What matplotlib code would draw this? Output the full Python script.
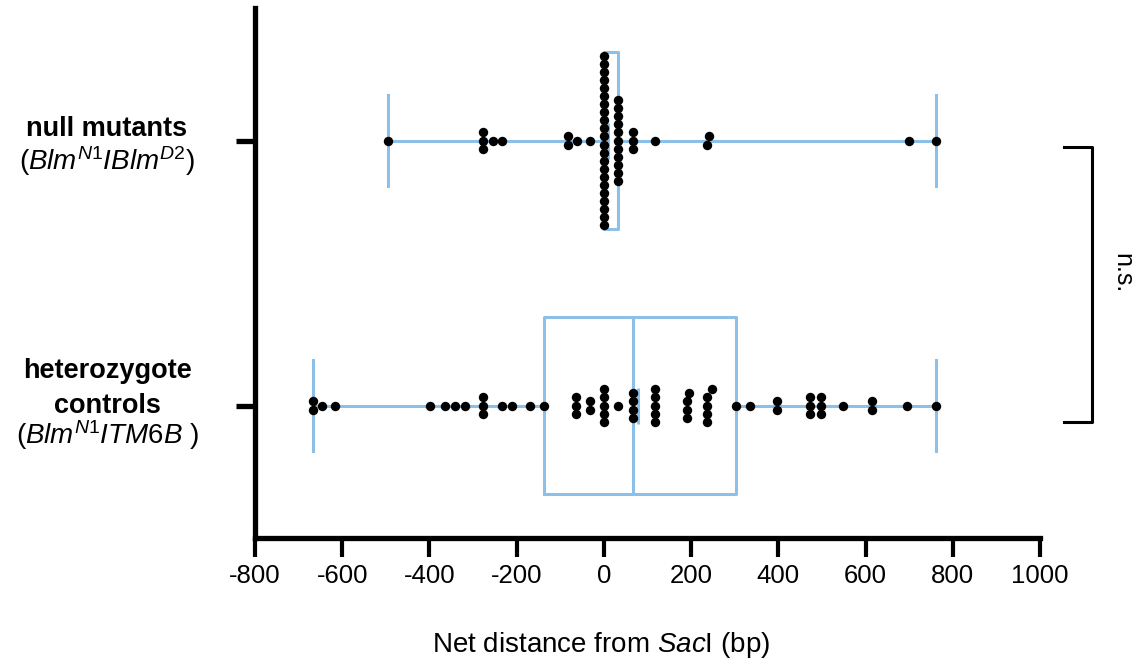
import numpy as np
import matplotlib
matplotlib.use("Agg")
import matplotlib.pyplot as plt
from matplotlib.transforms import offset_copy

plt.rcParams['font.family'] = 'Liberation Sans'
plt.rcParams['axes.unicode_minus'] = False
plt.rcParams['mathtext.fontset'] = 'custom'
plt.rcParams['mathtext.rm'] = 'Liberation Sans'
plt.rcParams['mathtext.it'] = 'Liberation Sans:italic'
plt.rcParams['mathtext.bf'] = 'Liberation Sans:bold'

# net distance (bp) of each event from the SacI site
null_vals = [-494, -278, -278, -278, -255, -234, -83, -83, -62, -32,
             0, 0, 0, 0, 0, 0, 0, 0, 0, 0, 0,
             0, 0, 0, 0, 0, 0, 0, 0, 0, 0, 0,
             32, 32, 32, 32, 32, 32, 32, 32, 32, 32, 32,
             67, 67, 67, 117, 237, 241, 699, 761]
het_vals = [-667, -667, -647, -616, -399, -364, -342, -318, -277, -277, -277,
            -234, -210, -169, -137, -64, -64, -64, -32, -32,
            0, 0, 0, 0, 0, 32, 67, 67, 67, 67,
            118, 118, 118, 118, 118, 190, 190, 190, 195,
            236, 236, 236, 236, 248, 304, 335, 398, 398,
            473, 473, 473, 497, 497, 497, 548, 615, 615, 695, 762]

groups = [het_vals, null_vals]   # plotted bottom to top
blue = '#8DC0E8'

def box_stats(vals):
    v = np.asarray(vals, dtype=float)
    q1, med, q3 = np.percentile(v, [25, 50, 75], method='weibull')
    return dict(med=med, q1=q1, q3=q3, whislo=v.min(), whishi=v.max(),
                mean=v.mean(), fliers=[])

def swarm_offsets(vals, xgap=15, dy=0.0302):
    # stack points that fall close together into centred vertical columns
    v = np.sort(np.asarray(vals, dtype=float))
    offs = np.zeros(len(v))
    start = 0
    for i in range(1, len(v) + 1):
        if i == len(v) or v[i] - v[start] > xgap:
            k = i - start
            offs[start:i] = (np.arange(k) - (k - 1) / 2) * dy
            start = i
    return v, offs

fig = plt.figure(figsize=(11.38, 6.63), dpi=100)
ax = fig.add_axes([255 / 1138, 125 / 663, 785 / 1138, 530 / 663])

ax.bxp([box_stats(g) for g in groups], positions=[0, 1], vert=False,
       widths=0.67, capwidths=0.34, showmeans=True, showfliers=False,
       boxprops=dict(color=blue, linewidth=2.2),
       whiskerprops=dict(color=blue, linewidth=2.2),
       capprops=dict(color=blue, linewidth=2.2),
       medianprops=dict(color=blue, linewidth=2.2),
       meanprops=dict(marker='|', markersize=26, markeredgecolor=blue,
                      markeredgewidth=2.2), zorder=2)

for pos, g in enumerate(groups):
    x, off = swarm_offsets(g)
    ax.scatter(x, pos + off, s=46, color='black', linewidths=0, zorder=3)

ax.set_xlim(-800, 1000)
ax.set_ylim(-0.5, 1.5)
ax.set_xticks(np.arange(-800, 1001, 200))
ax.set_yticks([0, 1])
ax.set_yticklabels([])
for s in ['top', 'right']:
    ax.spines[s].set_visible(False)
for s in ['left', 'bottom']:
    ax.spines[s].set_linewidth(3.8)
ax.tick_params(axis='x', length=14, width=3, labelsize=18.5, pad=5)
ax.tick_params(axis='y', length=14, width=3.8)

# group labels left of the axis
def label(text, ypos, dy_pts, size=19.5, **kw):
    tr = offset_copy(ax.get_yaxis_transform(), fig=fig, x=0, y=dy_pts, units='points')
    ax.text(-0.1885, ypos, text, transform=tr, ha='center', va='baseline',
            fontsize=size, **kw)

label('null mutants', 1, 3, fontweight='bold')
label(r'($\mathit{Blm}^{\mathit{N1}}\mathit{IBlm}^{\mathit{D2}}$)', 1, -21.5, size=20)
label('heterozygote', 0, 20, fontweight='bold')
label('controls', 0, -5.5, fontweight='bold')
label(r'($\mathit{Blm}^{\mathit{N1}}\mathit{ITM6B}$ )', 0, -28, size=20)

# significance bracket
ax.plot([1.0306, 1.066, 1.066, 1.0306], [0.974, 0.974, -0.064, -0.064],
        transform=ax.get_yaxis_transform(), color='black', linewidth=2.2,
        clip_on=False)
ax.text(1.1045, 0.5, 'n.s.', transform=ax.get_yaxis_transform(), rotation=-90,
        ha='center', va='center', fontsize=18)

fig.text(601 / 1138, 18 / 663, r'Net distance from $\mathit{Sac}$I (bp)',
         ha='center', va='center', fontsize=20)

fig.savefig('out.png', dpi=100)
